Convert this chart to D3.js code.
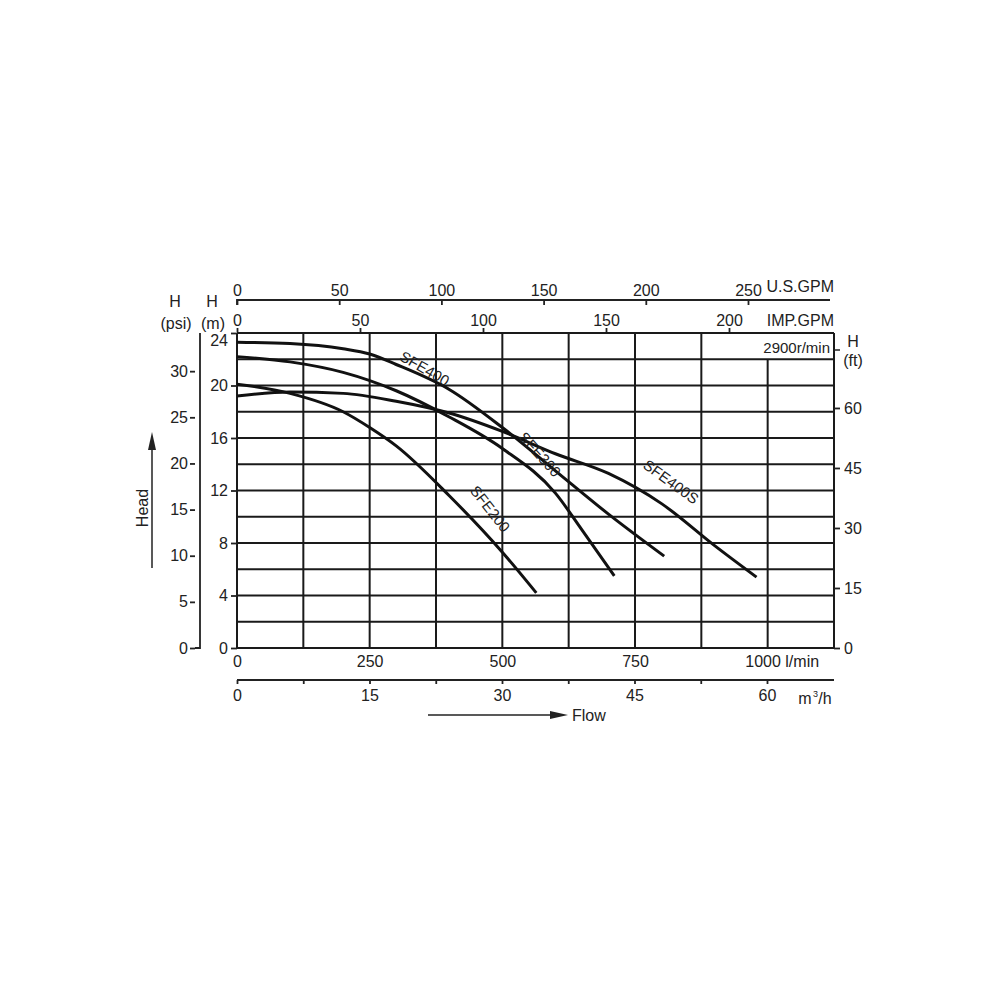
<!DOCTYPE html>
<html><head><meta charset="utf-8">
<script src="https://cdn.jsdelivr.net/npm/d3@7"></script>
<style>body{margin:0;background:#fff}text{font-family:"Liberation Sans",Arial,sans-serif;fill:#222}</style>
</head><body><svg id="c" width="1000" height="1000"></svg>
<script>
const sfe400  = [[0,23.3],[100,23.2],[200,22.8],[250,22.4],[300,21.6],[400,19.7],[500,16.8],[600,13.5],[700,10.2],[805,7.0]];
const sfe300  = [[0,22.2],[100,21.8],[200,21.0],[300,19.6],[400,17.6],[500,15.2],[600,11.8],[650,9.0],[711,5.5]];
const sfe400s = [[0,19.2],[100,19.5],[200,19.4],[300,18.8],[400,17.9],[500,16.5],[600,14.8],[700,13.3],[800,11.0],[900,7.8],[979,5.4]];
const sfe200  = [[0,20.1],[100,19.4],[200,18.0],[250,16.8],[300,15.4],[400,11.6],[500,7.3],[564,4.2]];
const curveLabels = [["SFE400",422,373,30],["SFE300",536,458,48],["SFE400S",668,486,36],["SFE200",486,512,52]];
const mTicks=[0,4,8,12,16,20,24], psiTicks=[0,5,10,15,20,25,30], ftTicks=[0,15,30,45,60];
const lpmTicks=[0,250,500,750,1000], m3hTicks=[0,15,30,45,60], usTicks=[0,50,100,150,200,250], impTicks=[0,50,100,150,200];

const svg=d3.select("#c");
const x=d3.scaleLinear().domain([0,1125]).range([237,834]);
const y=d3.scaleLinear().domain([0,24]).range([648,333]);
const yPsi=d3.scaleLinear().domain([0,24/0.70307]).range([648,333]);
const yFt=d3.scaleLinear().domain([0,24*3.28084]).range([648,333]);
const xM3=d3.scaleLinear().domain([0,60]).range([237,767]);
const xUS=d3.scaleLinear().domain([0,250]).range([237,748]);
const xIMP=d3.scaleLinear().domain([0,200]).range([237,729]);
const g=svg.append("g");
const ln=(x1,y1,x2,y2,w)=>g.append("line").attr("x1",x1).attr("y1",y1).attr("x2",x2).attr("y2",y2).attr("stroke","#1a1a1a").attr("stroke-width",w||2);
d3.range(0,25,2).forEach(v=>ln(237,y(v),834,y(v)));
d3.range(0,1126,125).forEach(v=>{const top=(v===1000)?y(22):y(24);ln(x(v),top,x(v),y(0));});
g.append("text").attr("x",830).attr("y",353).attr("text-anchor","end").attr("font-size",15).text("2900r/min");
const line=d3.line().x(d=>x(d[0])).y(d=>y(d[1])).curve(d3.curveMonotoneX);
[sfe400,sfe300,sfe400s,sfe200].forEach(s=>g.append("path").attr("d",line(s)).attr("fill","none").attr("stroke","#111").attr("stroke-width",3));
curveLabels.forEach(([t,cx,cy,a])=>g.append("text").attr("transform",`translate(${cx},${cy}) rotate(${a})`).attr("text-anchor","middle").attr("font-size",15).text(t));
const aM=svg.append("g").attr("transform","translate(237,0)").call(d3.axisLeft(y).tickValues(mTicks).tickSize(6).tickPadding(3));
const aP=svg.append("g").attr("transform","translate(195,0)").call(d3.axisLeft(yPsi).tickValues(psiTicks).tickSize(5).tickPadding(2));
const aF=svg.append("g").attr("transform","translate(834,0)").call(d3.axisRight(yFt).tickValues(ftTicks).tickSize(6).tickPadding(4));
svg.append("line").attr("x1",834).attr("x2",840).attr("y1",350).attr("y2",350).attr("stroke","#222").attr("stroke-width",1.5);
const aL=svg.append("g").attr("transform","translate(0,648)").call(d3.axisBottom(x).tickValues(lpmTicks).tickSize(0).tickPadding(8).tickFormat(d=>d===1000?"1000 l/min":d));
const aH=svg.append("g").attr("transform","translate(0,680)").call(d3.axisBottom(xM3).tickValues(d3.range(0,61,7.5)).tickSize(4).tickPadding(6).tickFormat(d=>m3hTicks.includes(d)?d:""));
aH.select(".domain").attr("d","M237,0V0H834");
const aU=svg.append("g").attr("transform","translate(0,300)").call(d3.axisTop(xUS).tickValues(usTicks).tickSize(-5).tickPadding(4));
aU.select(".domain").attr("d","M237,5V0H830");
const aI=svg.append("g").attr("transform","translate(0,332)").call(d3.axisTop(xIMP).tickValues(impTicks).tickSize(4).tickPadding(2));
aI.select(".domain").remove();
[aM,aP,aF,aL,aH,aU,aI].forEach(a=>{a.selectAll("text").attr("font-size",16).style("font-family","Liberation Sans, Arial").attr("fill","#222");a.selectAll("line,path").attr("stroke","#222").attr("stroke-width",1.8);});
aM.select(".domain").remove();
aM.selectAll(".tick").filter(d=>d===24).select("text").attr("dy","0.8em");
aP.select(".domain").attr("d","M0,648H5V333");
aF.select(".domain").remove();
aL.select(".domain").remove();
aL.selectAll("text").filter(d=>d===1000).attr("dx",14);
const T=(t,xx,yy,anc,fs)=>svg.append("text").attr("x",xx).attr("y",yy).attr("text-anchor",anc||"middle").attr("font-size",fs||16).text(t);
T("U.S.GPM",834,292,"end");T("IMP.GPM",834,326,"end");
T("m",805,704,"middle");svg.append("text").attr("x",813).attr("y",697).attr("font-size",9).text("3");T("/h",825,704,"middle");
T("H",175,307);T("(psi)",176,329);T("H",212,307);T("(m)",213,329);
T("H",853,347);T("(ft)",853,366);
svg.append("text").attr("transform","translate(148,508) rotate(-90)").attr("text-anchor","middle").attr("font-size",16).text("Head");
svg.append("line").attr("x1",152).attr("x2",152).attr("y1",568).attr("y2",445).attr("stroke","#222").attr("stroke-width",1.5);
svg.append("path").attr("d","M148,450L152,432L156,450Z").attr("fill","#222");
svg.append("line").attr("x1",428).attr("x2",555).attr("y1",715).attr("y2",715).attr("stroke","#222").attr("stroke-width",1.5);
svg.append("path").attr("d","M550,711L568,715L550,719Z").attr("fill","#222");
T("Flow",572,721,"start");
</script></body></html>
